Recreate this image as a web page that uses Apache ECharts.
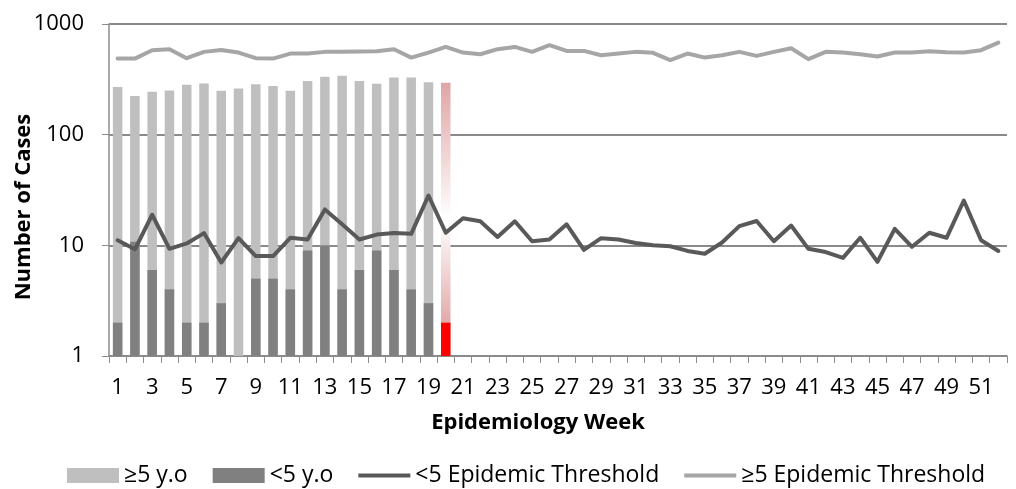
<!DOCTYPE html>
<html>
<head>
<meta charset="utf-8">
<script src="https://cdn.jsdelivr.net/npm/echarts@6/dist/echarts.min.js"></script>
<style>
html,body{margin:0;padding:0;background:#fff;}
#chart{width:1016px;height:489px;}
</style>
</head>
<body>
<div id="chart"></div>
<script>
const weeks = ['1','2','3','4','5','6','7','8','9','10','11','12','13','14','15','16','17','18','19','20','21','22','23','24','25','26','27','28','29','30','31','32','33','34','35','36','37','38','39','40','41','42','43','44','45','46','47','48','49','50','51','52'];
const over5Cases = [270,224,244,251,282,290,249,261,286,275,249,306,333,340,306,288,328,328,298,294];
const under5Cases = [2,10.8,6,4,2,2,3,null,5,5,4,9,10,4,6,9,6,4,3,2];
const under5Threshold = [11.1,9.2,18.9,9.3,10.4,12.9,7.0,11.6,8.0,8.0,11.7,11.3,21.1,15.5,11.3,12.5,12.9,12.7,28.2,13.0,17.6,16.5,11.9,16.5,10.9,11.3,15.5,9.1,11.6,11.3,10.5,10.0,9.8,8.9,8.4,10.6,14.9,16.6,10.9,15.1,9.3,8.7,7.7,11.7,7.1,14.1,9.7,13.0,11.7,25.4,11.1,8.9];
const over5Threshold = [487,487,580,592,491,560,583,552,491,487,540,541,560,560,563,567,592,497,552,621,552,533,592,621,560,643,571,571,522,540,560,549,471,541,497,522,560,515,560,604,481,560,552,533,508,552,552,567,556,552,580,679];
const currentWeekIndex = 19;

const FONT = 'Open Sans';
const chart = echarts.init(document.getElementById('chart'), null, {renderer:'canvas'});

const over5Data = over5Cases.map((v, i) => i === currentWeekIndex ? {
  value: v,
  itemStyle: {
    color: new echarts.graphic.LinearGradient(0, 0, 0, 1, [
      {offset: 0, color: '#E0A5A5'},
      {offset: 0.5, color: '#FFFFFF'},
      {offset: 0.88, color: '#E2AAAA'},
      {offset: 1, color: '#E2AAAA'}
    ])
  }
} : v);
const under5Data = under5Cases.map((v, i) => i === currentWeekIndex ? {value: v, itemStyle: {color: '#FF0000'}} : v);

chart.setOption({
  animation: false,
  textStyle: {fontFamily: FONT},
  grid: {left: 109, right: 9, top: 24, bottom: 133, containLabel: false, outerBoundsMode: 'none'},
  legend: {
    left: 62, top: 459,
    itemWidth: 52, itemHeight: 15, itemGap: 25,
    textStyle: {fontFamily: FONT, fontSize: 23, color: '#000'},
    data: [
      {name: '≥5 y.o', icon: 'rect'},
      {name: '<5 y.o', icon: 'rect'},
      {name: '<5 Epidemic Threshold', icon: 'path://M0,0H52V4H0Z'},
      {name: '≥5 Epidemic Threshold', icon: 'path://M0,0H52V4H0Z'}
    ]
  },
  xAxis: {
    type: 'category',
    data: weeks,
    name: 'Epidemiology Week',
    nameLocation: 'middle',
    nameGap: 56,
    nameTextStyle: {fontFamily: FONT, fontSize: 22, fontWeight: 'bold', color: '#000', padding: [0, 40, 0, 0]},
    axisLine: {lineStyle: {color: '#8C8C8C', width: 1.5}},
    axisTick: {show: true, interval: 0, length: 7, lineStyle: {color: '#8C8C8C', width: 1}},
    axisLabel: {interval: 1, fontFamily: FONT, fontSize: 22, color: '#000', margin: 21},
    splitLine: {show: false}
  },
  yAxis: {
    type: 'log',
    logBase: 10,
    min: 1, max: 1000,
    name: 'Number of Cases',
    nameLocation: 'middle',
    nameGap: 74,
    nameMoveOverlap: false,
    nameTextStyle: {fontFamily: FONT, fontSize: 22, fontWeight: 'bold', color: '#000', padding: [0, 34, 0, 0]},
    axisLine: {show: true, lineStyle: {color: '#8C8C8C', width: 1.5}},
    axisTick: {show: true, length: 7, lineStyle: {color: '#8C8C8C', width: 1}},
    axisLabel: {fontFamily: FONT, fontSize: 22, color: '#000', margin: 25, formatter: v => String(Math.round(v))},
    splitLine: {show: true, lineStyle: {color: '#8A8A8A', width: 2}},
    minorTick: {show: false}
  },
  series: [
    {
      name: '≥5 y.o', type: 'bar', data: over5Data, barWidth: 9.5,
      itemStyle: {color: '#BFBFBF'}
    },
    {
      name: '<5 y.o', type: 'bar', data: under5Data, barWidth: 9.5, barGap: '-100%',
      itemStyle: {color: '#808080'}
    },
    {
      name: '<5 Epidemic Threshold', type: 'line', data: under5Threshold,
      symbol: 'none', itemStyle: {color: '#595959'},
      lineStyle: {color: '#595959', width: 4, cap: 'round', join: 'round'}, z: 3
    },
    {
      name: '≥5 Epidemic Threshold', type: 'line', data: over5Threshold,
      symbol: 'none', itemStyle: {color: '#A6A6A6'},
      lineStyle: {color: '#A6A6A6', width: 4, cap: 'round', join: 'round'}, z: 3
    }
  ]
});
</script>
</body>
</html>
